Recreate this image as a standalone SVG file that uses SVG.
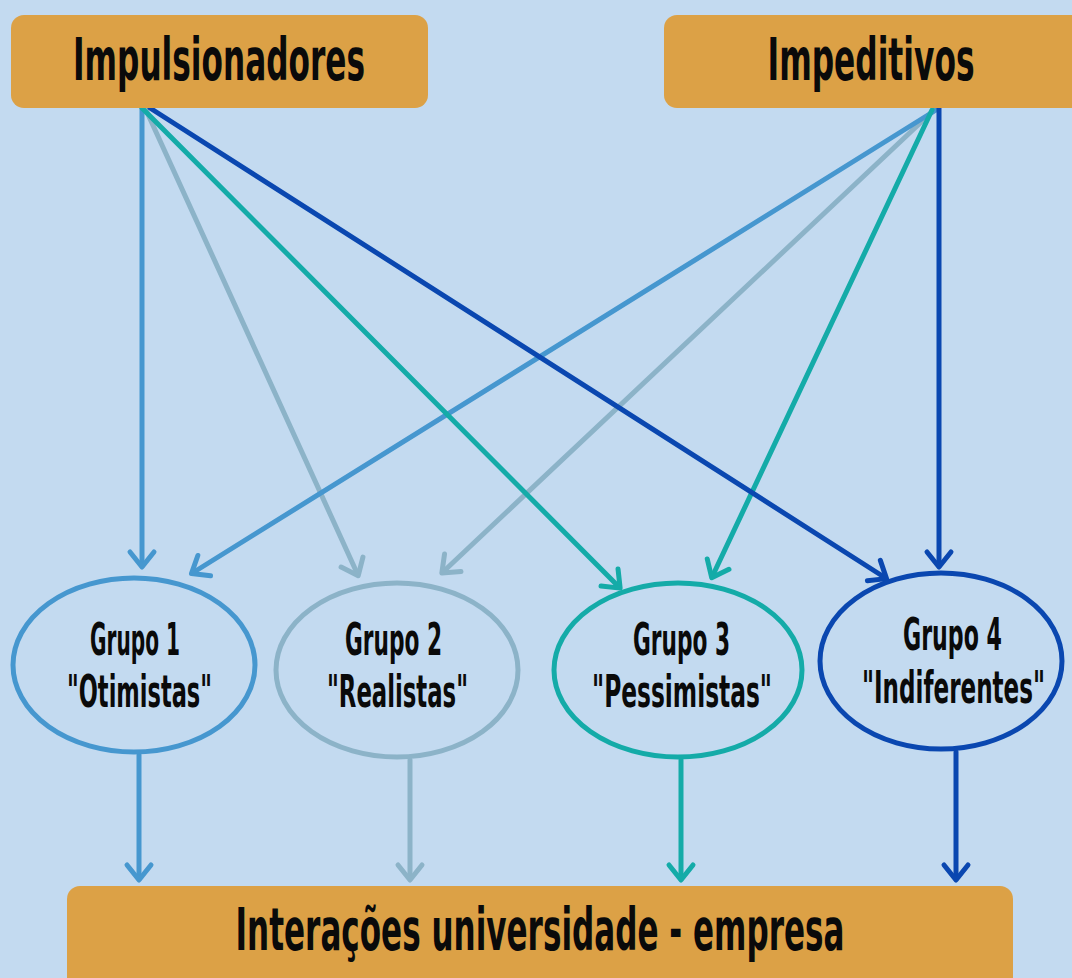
<svg xmlns="http://www.w3.org/2000/svg" width="1072" height="978" viewBox="0 0 1072 978">
<style>
.box{fill:#dca146}
.t{font-family:"DejaVu Sans","Liberation Sans",sans-serif;font-weight:bold;fill:#0a0a0a;text-anchor:middle}
.big{font-size:59px}
.sm{font-size:44px}
.c{fill:none;stroke-width:5;stroke-linecap:round}
.el{fill:none;stroke-width:5}
.b1{stroke:#4697cf}
.b2{stroke:#8cb3c8}
.b3{stroke:#14aba8}
.b4{stroke:#0a47b0}
.ah{fill:none;stroke-width:5;stroke-linecap:round;stroke-linejoin:round}
</style>
<defs>
<marker id="m1" markerUnits="userSpaceOnUse" markerWidth="22" markerHeight="30" refX="14" refY="14" orient="auto" overflow="visible"><path class="ah" d="M2,2 L17,14 L2,26" stroke="#4697cf"/></marker>
<marker id="m2" markerUnits="userSpaceOnUse" markerWidth="22" markerHeight="30" refX="14" refY="14" orient="auto" overflow="visible"><path class="ah" d="M2,2 L17,14 L2,26" stroke="#8cb3c8"/></marker>
<marker id="m3" markerUnits="userSpaceOnUse" markerWidth="22" markerHeight="30" refX="14" refY="14" orient="auto" overflow="visible"><path class="ah" d="M2,2 L17,14 L2,26" stroke="#14aba8"/></marker>
<marker id="m4" markerUnits="userSpaceOnUse" markerWidth="22" markerHeight="30" refX="14" refY="14" orient="auto" overflow="visible"><path class="ah" d="M2,2 L17,14 L2,26" stroke="#0a47b0"/></marker>
</defs>
<rect width="1072" height="978" fill="#c3daf0"/>
<g id="connectors">
<line class="c b2" x1="146" y1="110" x2="357" y2="573" marker-end="url(#m2)"/>
<line class="c b2" x1="934" y1="110" x2="444" y2="571" marker-end="url(#m2)"/>
<line class="c b1" x1="142" y1="108" x2="142" y2="564" marker-end="url(#m1)"/>
<line class="c b1" x1="936" y1="110" x2="194" y2="572" marker-end="url(#m1)"/>
<line class="c b3" x1="142" y1="108" x2="618" y2="586" marker-end="url(#m3)"/>
<line class="c b3" x1="932" y1="110" x2="713" y2="575" marker-end="url(#m3)"/>
<line class="c b4" x1="150" y1="108" x2="884" y2="577" marker-end="url(#m4)"/>
<line class="c b4" x1="939" y1="108" x2="939" y2="564" marker-end="url(#m4)"/>
<line class="c b1" x1="139" y1="755" x2="139" y2="877" marker-end="url(#m1)"/>
<line class="c b2" x1="410" y1="760" x2="410" y2="877" marker-end="url(#m2)"/>
<line class="c b3" x1="681" y1="760" x2="681" y2="877" marker-end="url(#m3)"/>
<line class="c b4" x1="956" y1="752" x2="956" y2="877" marker-end="url(#m4)"/>
</g>
<g id="impulsionadores">
<rect class="box" x="11" y="15" width="417" height="93" rx="13"/>
<text class="t big" x="219" y="80" textLength="292" lengthAdjust="spacingAndGlyphs">Impulsionadores</text>
</g>
<g id="impeditivos">
<rect class="box" x="664" y="15" width="430" height="93" rx="13"/>
<text class="t big" x="871" y="80" textLength="207" lengthAdjust="spacingAndGlyphs">Impeditivos</text>
</g>
<g id="grupo1">
<ellipse class="el b1" cx="134" cy="665" rx="121" ry="87"/>
<text class="t sm" x="135" y="655" textLength="90" lengthAdjust="spacingAndGlyphs">Grupo 1</text>
<text class="t sm" x="139.5" y="707" textLength="145" lengthAdjust="spacingAndGlyphs">"Otimistas"</text>
</g>
<g id="grupo2">
<ellipse class="el b2" cx="397" cy="670" rx="121" ry="87"/>
<text class="t sm" x="393.5" y="655" textLength="97" lengthAdjust="spacingAndGlyphs">Grupo 2</text>
<text class="t sm" x="397.5" y="707" textLength="141" lengthAdjust="spacingAndGlyphs">"Realistas"</text>
</g>
<g id="grupo3">
<ellipse class="el b3" cx="678" cy="670" rx="124" ry="87"/>
<text class="t sm" x="681.5" y="655" textLength="97" lengthAdjust="spacingAndGlyphs">Grupo 3</text>
<text class="t sm" x="682" y="707" textLength="180" lengthAdjust="spacingAndGlyphs">"Pessimistas"</text>
</g>
<g id="grupo4">
<ellipse class="el b4" cx="941" cy="661" rx="121" ry="88"/>
<text class="t sm" x="952.5" y="650" textLength="99" lengthAdjust="spacingAndGlyphs">Grupo 4</text>
<text class="t sm" x="953.5" y="703" textLength="183" lengthAdjust="spacingAndGlyphs">"Indiferentes"</text>
</g>
<g id="interacoes">
<rect class="box" x="67" y="886" width="946" height="120" rx="13"/>
<text class="t big" x="540" y="950" textLength="609" lengthAdjust="spacingAndGlyphs">Interações universidade - empresa</text>
</g>
</svg>
